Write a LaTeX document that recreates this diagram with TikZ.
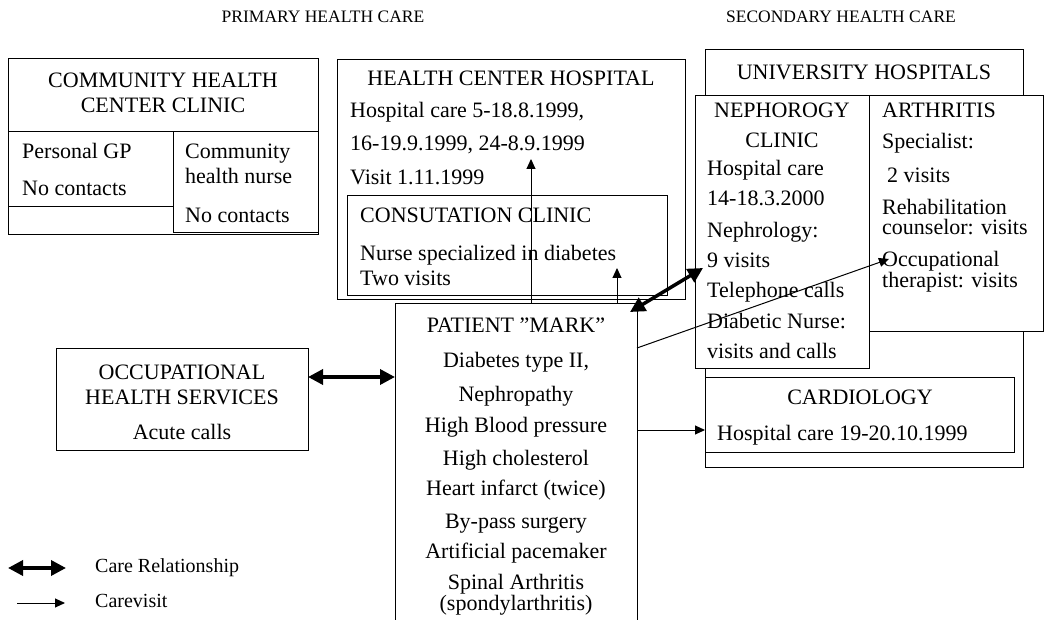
\documentclass[tikz,border=0pt]{standalone}
\usepackage{fontspec}
\setmainfont{Liberation Serif}
\usetikzlibrary{arrows.meta}
\begin{document}
\begin{tikzpicture}[x=1pt,y=-1pt,
  box/.style={draw,line width=1pt,fill=white,anchor=north west,inner sep=0pt,outer sep=0pt},
  t/.style={inner sep=0pt,text height=15pt,text depth=4.5pt,font=\fontsize{22}{26}\selectfont},
  tl/.style={t,anchor=west},
  two/.style={inner sep=0pt,font=\fontsize{22}{#1}\selectfont},
  ttl/.style={inner sep=0pt,font=\fontsize{17.5}{20}\selectfont},
  leg/.style={inner sep=0pt,anchor=west,text height=13pt,text depth=4pt,font=\fontsize{20}{24}\selectfont},
  care/.style={line width=3.5pt,{Triangle[length=15pt,width=15pt]}-{Triangle[length=15pt,width=15pt]}},
  visit/.style={line width=1pt,-{Triangle[length=10pt,width=9pt]}}]
\useasboundingbox[fill=white] (0,0) rectangle (1047,620);

% titles
\node[ttl] (prim) at (323,17) {PRIMARY HEALTH CARE};
\node[ttl] (sec) at (841,17) {SECONDARY HEALTH CARE};

% community health center clinic
\node[box,minimum width=310pt,minimum height=176pt] (chc) at (8,59) {};
\node[box,minimum width=165pt,minimum height=75pt] (gp) at (8,132) {};
\node[box,minimum width=145pt,minimum height=101pt] (cnurse) at (173,132) {};
\node[t] (chc1) at (163,82) {COMMUNITY HEALTH};
\node[t] (chc2) at (163,107) {CENTER CLINIC};
\node[tl] (gp1) at (22,153) {Personal GP};
\node[tl] (gp2) at (22,190) {No contacts};
\node[two=25, align=left, anchor=north west] (cn1) at (185,144) {Community\\health nurse};
\node[tl] (cn3) at (185,217) {No contacts};

% health center hospital
\node[box,minimum width=348pt,minimum height=240pt] (hch) at (337,60) {};
\node[t] (hch1) at (511,80) {HEALTH CENTER HOSPITAL};
\node[tl] (hch2) at (350,112) {Hospital care 5-18.8.1999,};
\node[tl] (hch3) at (350,145) {16-19.9.1999, 24-8.9.1999};
\node[tl] (hch4) at (350,179) {Visit 1.11.1999};
\node[box,minimum width=320pt,minimum height=100pt] (consult) at (347,196) {};
\node[tl] (con1) at (360,217) {CONSUTATION CLINIC};
\node[two=25, align=left, anchor=north west] (con2) at (360,245) {Nurse specialized in diabetes\\Two visits};

% university hospitals
\node[box,minimum width=318pt,minimum height=417pt] (uh) at (705,50) {};
\node[t] (uh1) at (864,74) {UNIVERSITY HOSPITALS};
\node[box,minimum width=174pt,minimum height=272pt] (neph) at (695,96) {};
\node[t] (ne1) at (782,112) {NEPHOROGY};
\node[t] (ne2) at (782,142) {CLINIC};
\node[tl] (ne3) at (707,170) {Hospital care};
\node[tl] (ne4) at (707,200) {14-18.3.2000};
\node[tl] (ne5) at (707,232) {Nephrology:};
\node[tl] (ne6) at (707,262) {9 visits};
\node[tl] (ne7) at (707,292) {Telephone calls};
\node[tl] (ne8) at (707,323) {Diabetic Nurse:};
\node[tl] (ne9) at (707,353) {visits and calls};
\node[box,minimum width=174pt,minimum height=236pt] (arth) at (869,96) {};
\node[tl] (ar1) at (882,112) {ARTHRITIS};
\node[tl] (ar2) at (882,143) {Specialist:};
\node[tl] (ar3) at (887,177) {2 visits};
\node[two=20, align=left, anchor=north west] (ar4) at (882,199) {Rehabilitation\\counselor: visits};
\node[two=21, align=left, anchor=north west] (ar6) at (882,251) {Occupational\\therapist: visits};
\node[box,minimum width=309pt,minimum height=75pt] (cardio) at (705,377) {};
\node[t] (ca1) at (860,399) {CARDIOLOGY};
\node[tl] (ca2) at (717,435) {Hospital care 19-20.10.1999};

% occupational health services
\node[box,minimum width=252pt,minimum height=101pt] (occ) at (56,349) {};
\node[two=25, align=center] (oc1) at (182,385) {OCCUPATIONAL\\HEALTH SERVICES};
\node[t] (oc3) at (182,434) {Acute calls};

% patient
\node[box,minimum width=242pt,minimum height=322pt] (patient) at (395,304) {};
\node[t] (pa1) at (516,327) {PATIENT ''MARK''};
\node[t] (pa2) at (516,362) {Diabetes type II,};
\node[t] (pa3) at (516,396) {Nephropathy};
\node[t] (pa4) at (516,427) {High Blood pressure};
\node[t] (pa5) at (516,460) {High cholesterol};
\node[t] (pa6) at (516,490) {Heart infarct (twice)};
\node[t] (pa7) at (516,523) {By-pass surgery};
\node[t] (pa8) at (516,553) {Artificial pacemaker};
\node[two=17, align=center, anchor=north] (pa9) at (516,574) {Spinal Arthritis\\(spondylarthritis)};

% connector end points
\coordinate (hchT) at (531,159);
\coordinate (consT) at (617,268);
\coordinate (pCare) at (630,312);
\coordinate (nephT) at (703,268);
\coordinate (occT) at (889,259);

% connectors
\draw[care] (occ.east |- 0,377) -- (patient.west |- 0,377);
\draw[visit] (patient.north -| hchT) -- (hchT);
\draw[visit] (patient.north -| consT) -- (consT);
\draw[care] (pCare) -- (nephT);
\draw[visit] (patient.east |- 0,348) -- (occT);
\draw[visit] (patient.east |- 0,430) -- (cardio.west |- 0,430);

% legend
\coordinate (l1a) at (8,568);
\coordinate (l1b) at (66,568);
\coordinate (l2a) at (17,603);
\coordinate (l2b) at (65,603);
\draw[care] (l1a) -- (l1b);
\draw[visit] (l2a) -- (l2b);
\node[leg] (lg1) at (95,568) {Care Relationship};
\node[leg] (lg2) at (95,603) {Carevisit};
\end{tikzpicture}
\end{document}
